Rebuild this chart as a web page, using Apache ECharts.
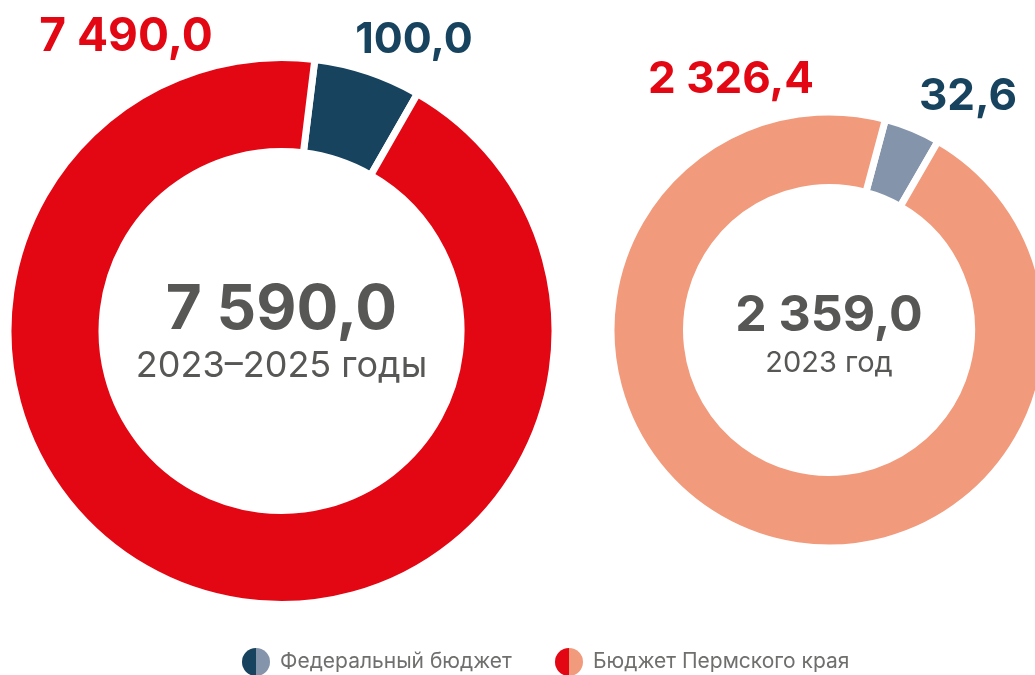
<!DOCTYPE html>
<html lang="ru">
<head>
<meta charset="utf-8">
<title>Финансирование</title>
<script src="https://cdn.jsdelivr.net/npm/echarts@6/dist/echarts.min.js"></script>
<style>
  html, body { margin: 0; padding: 0; background: #ffffff; }
  #chart { width: 1035px; height: 675px; }
</style>
</head>
<body>
<div id="chart"></div>
<script>
// Источники финансирования, млн рублей
const categories = ['Федеральный бюджет', 'Бюджет Пермского края'];
const valuesPeriod = [100.0, 7490.0];   // 2023–2025 годы
const valuesYear = [32.6, 2326.4];      // 2023 год
const periodTitles = ['2023–2025 годы', '2023 год'];

const colorsPeriod = ['#17435f', '#e30613'];
const colorsYear = ['#8494ab', '#f19a7c'];
const labelColors = ['#17435f', '#e30613'];
const centerColor = '#575756';
const FONT = 'Inter, "Noto Sans", sans-serif';

// «7 490,0» — пробел между разрядами, запятая перед десятыми
function fmt(v) {
  const parts = v.toFixed(1).split('.');
  const int = parts[0].replace(/\B(?=(\d{3})+(?!\d))/g, ' ');
  return int + ',' + parts[1];
}
const sum = arr => arr.reduce((a, b) => a + b, 0);

// Геометрия колец
const rings = [
  { center: [281.5, 331], radius: [179.5, 273.5], startAngle: 83, minAngle: 22.8,
    labelPos: [[414, 40], [126, 37]], labelSize: [43, 46], big: 62, small: 36, bigY: 310, smallY: 366 },
  { center: [829, 330], radius: [142.5, 218], startAngle: 75, minAngle: 15,
    labelPos: [[968, 97], [731, 80]], labelSize: [44, 44], big: 50, small: 29, bigY: 316, smallY: 363 }
];
const ringValues = [valuesPeriod, valuesYear];
const ringColors = [colorsPeriod, colorsYear];

const series = rings.map((ring, ri) => ({
  type: 'pie',
  silent: true,
  center: ring.center,
  radius: ring.radius,
  startAngle: ring.startAngle,
  clockwise: true,
  minAngle: ring.minAngle,
  avoidLabelOverlap: false,
  animation: false,
  itemStyle: { borderColor: '#ffffff', borderWidth: 7 },
  label: {
    show: true,
    position: 'outside',
    formatter: p => fmt(p.value),
    fontFamily: FONT,
    fontWeight: 700
  },
  labelLine: { show: false },
  labelLayout: p => ({
    x: ring.labelPos[p.dataIndex][0],
    y: ring.labelPos[p.dataIndex][1],
    align: 'center',
    verticalAlign: 'middle'
  }),
  data: categories.map((name, i) => ({
    name: name,
    value: ringValues[ri][i],
    itemStyle: { color: ringColors[ri][i] },
    label: { color: labelColors[i], fontSize: ring.labelSize[i] }
  }))
}));

// Итоговые суммы в центре колец
const centerTexts = [];
rings.forEach((ring, ri) => {
  centerTexts.push({
    type: 'text', silent: true,
    style: {
      x: ring.center[0], y: ring.bigY, text: fmt(sum(ringValues[ri])),
      fill: centerColor, font: '700 ' + ring.big + 'px ' + FONT,
      textAlign: 'center', textVerticalAlign: 'middle'
    }
  });
  centerTexts.push({
    type: 'text', silent: true,
    style: {
      x: ring.center[0], y: ring.smallY, text: periodTitles[ri],
      fill: centerColor, font: '400 ' + ring.small + 'px ' + FONT,
      textAlign: 'center', textVerticalAlign: 'middle'
    }
  });
});

// Легенда: значок из двух половин (период / год) и подпись
const legendItems = [];
const legendX = [256, 569];
const legendY = 662;
const iconR = 14;
categories.forEach((name, i) => {
  legendItems.push({
    type: 'sector', silent: true,
    shape: { cx: legendX[i], cy: legendY, r: iconR, r0: 0,
             startAngle: Math.PI / 2, endAngle: Math.PI * 1.5, clockwise: true },
    style: { fill: colorsPeriod[i] }
  });
  legendItems.push({
    type: 'sector', silent: true,
    shape: { cx: legendX[i], cy: legendY, r: iconR, r0: 0,
             startAngle: -Math.PI / 2, endAngle: Math.PI / 2, clockwise: true },
    style: { fill: colorsYear[i] }
  });
  legendItems.push({
    type: 'text', silent: true,
    style: {
      x: legendX[i] + 24, y: legendY, text: name,
      fill: '#6f6f6e', font: '400 21px ' + FONT,
      textAlign: 'left', textVerticalAlign: 'middle'
    }
  });
});

const chart = echarts.init(document.getElementById('chart'), null, { renderer: 'canvas' });
chart.setOption({
  backgroundColor: '#ffffff',
  animation: false,
  series: series,
  graphic: centerTexts.concat(legendItems)
});
</script>
</body>
</html>
